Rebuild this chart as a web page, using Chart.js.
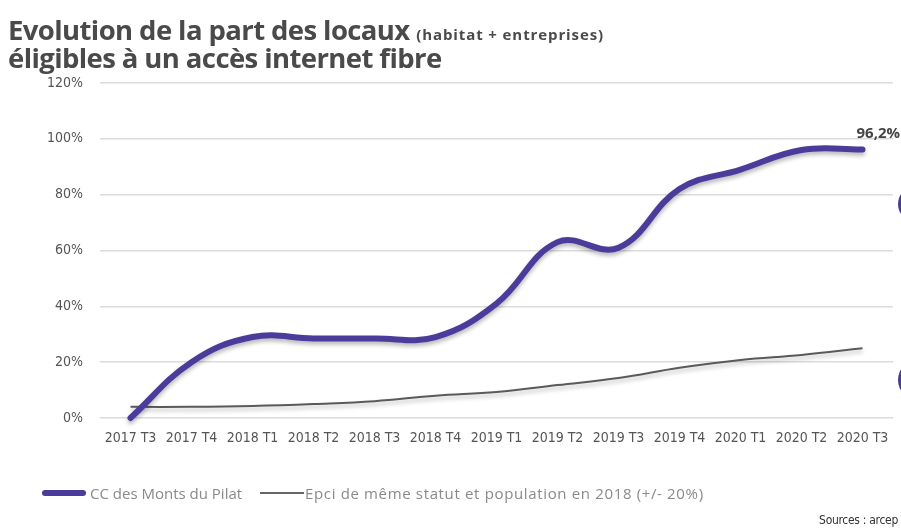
<!DOCTYPE html>
<html>
<head>
<meta charset="utf-8">
<script src="https://cdn.jsdelivr.net/npm/chart.js@4/dist/chart.umd.min.js"></script>
<style>
  html, body { margin: 0; padding: 0; background: #fff; overflow: hidden; }
  #wrap { position: relative; width: 901px; height: 531px; overflow: hidden; }
  #chart { position: absolute; left: 0; top: 0; }
  .title { position: absolute; left: 8px; font-family: "Open Sans", sans-serif; font-weight: 700;
           color: #4a4a4a; font-size: 27.5px; line-height: 28px; letter-spacing: -0.6px; white-space: nowrap; }
  .title small { font-size: 15px; letter-spacing: 0.9px; }
  .leg { position: absolute; font-family: "Open Sans", sans-serif; font-size: 15px; color: #8a8a8a;
         line-height: 18px; top: 484px; white-space: nowrap; }
  .swatch { position: absolute; }
  .src { position: absolute; right: 3px; top: 513px; font-family: "DejaVu Sans Condensed", sans-serif;
         font-size: 12px; color: #333; letter-spacing: -0.3px; }
  .dot { position: absolute; background: #4b3c9b; border-radius: 50%; }
</style>
</head>
<body>
<div id="wrap">
  <canvas id="chart" width="901" height="531"></canvas>
  <div class="title" style="top:16px">Evolution de la part des locaux <small>(habitat + entreprises)</small></div>
  <div class="title" style="top:44px">éligibles à un accès internet fibre</div>
  <div class="swatch" style="left:42px; top:490px; width:44px; height:6px; background:#4b3c9b; border-radius:3px"></div>
  <div class="leg" style="left:90px">CC des Monts du Pilat</div>
  <div class="swatch" style="left:260px; top:492px; width:44px; height:2px; background:#666"></div>
  <div class="leg" style="left:305px; letter-spacing:0.65px">Epci de même statut et population en 2018 (+/- 20%)</div>
  <div class="src">Sources : arcep</div>
  <div class="dot" style="left:898px; top:186px; width:36px; height:36px"></div>
  <div class="dot" style="left:898px; top:360px; width:40px; height:40px"></div>
</div>
<script>
const quarters = ['2017 T3', '2017 T4', '2018 T1', '2018 T2', '2018 T3', '2018 T4', '2019 T1',
                  '2019 T2', '2019 T3', '2019 T4', '2020 T1', '2020 T2', '2020 T3'];
const pilat = [0, 20, 29, 28.5, 28.5, 29, 41, 63, 61, 82, 89, 96, 96.2];
const epci = [4, 4, 4.3, 5, 6, 8, 9.3, 11.8, 14.3, 18, 20.8, 22.6, 25];
const yTicks = [0, 20, 40, 60, 80, 100, 120];

const tickFont = { family: '"DejaVu Sans Condensed", sans-serif', size: 14 };

// soft drop shadow under both lines
const shadowPlugin = {
    id: 'shadow',
    beforeDatasetDraw(chart) {
        const ctx = chart.ctx;
        ctx.save();
        ctx.shadowColor = 'rgba(0,0,0,0.28)';
        ctx.shadowBlur = 4;
        ctx.shadowOffsetY = 3;
    },
    afterDatasetDraw(chart) {
        chart.ctx.restore();
    }
};

// value label on the last point of the first series
const lastLabel = {
    id: 'lastLabel',
    afterDatasetsDraw(chart) {
        const meta = chart.getDatasetMeta(0);
        const pt = meta.data[meta.data.length - 1];
        const v = pilat[pilat.length - 1];
        const ctx = chart.ctx;
        ctx.save();
        ctx.font = 'bold 15px "Open Sans", sans-serif';
        ctx.fillStyle = '#444';
        ctx.textAlign = 'left';
        ctx.textBaseline = 'middle';
        ctx.fillText(v.toString().replace('.', ',') + '%', pt.x - 6, pt.y - 16);
        ctx.restore();
    }
};

const data = {
    labels: quarters,
    datasets: [{
        label: 'CC des Monts du Pilat',
        data: pilat,
        borderColor: '#4b3c9b',
        borderWidth: 6,
        tension: 0.4,
        pointRadius: 0,
        clip: false,
        borderCapStyle: 'round'
    }, {
        label: 'Epci de même statut et population en 2018 (+/- 20%)',
        data: epci,
        borderColor: '#5a5a5a',
        borderWidth: 2,
        tension: 0.4,
        pointRadius: 0,
        clip: false
    }]
};

const config = {
    type: 'line',
    data: data,
    options: {
        responsive: false,
        animation: false,
        layout: { padding: { top: 83, right: 8, bottom: 70, left: 0 } },
        scales: {
            x: {
                offset: true,
                grid: { display: false, drawTicks: false },
                border: { display: false },
                ticks: { color: '#555', font: tickFont, padding: 12, maxRotation: 0, autoSkip: false },
                afterFit(scale) { scale.height = 43; }
            },
            y: {
                min: 0,
                max: 120,
                afterBuildTicks(scale) { scale.ticks = yTicks.map(v => ({ value: v })); },
                grid: { color: '#dcdcdc', lineWidth: 1.5, drawTicks: false },
                border: { display: false },
                ticks: { color: '#555', font: tickFont, padding: 17, callback: v => v + '%' },
                afterFit(scale) { scale.width = 100; }
            }
        },
        plugins: {
            legend: { display: false },
            tooltip: { enabled: false }
        }
    },
    plugins: [shadowPlugin, lastLabel]
};

var myChart = new Chart(document.getElementById('chart').getContext('2d'), config);
</script>
</body>
</html>
